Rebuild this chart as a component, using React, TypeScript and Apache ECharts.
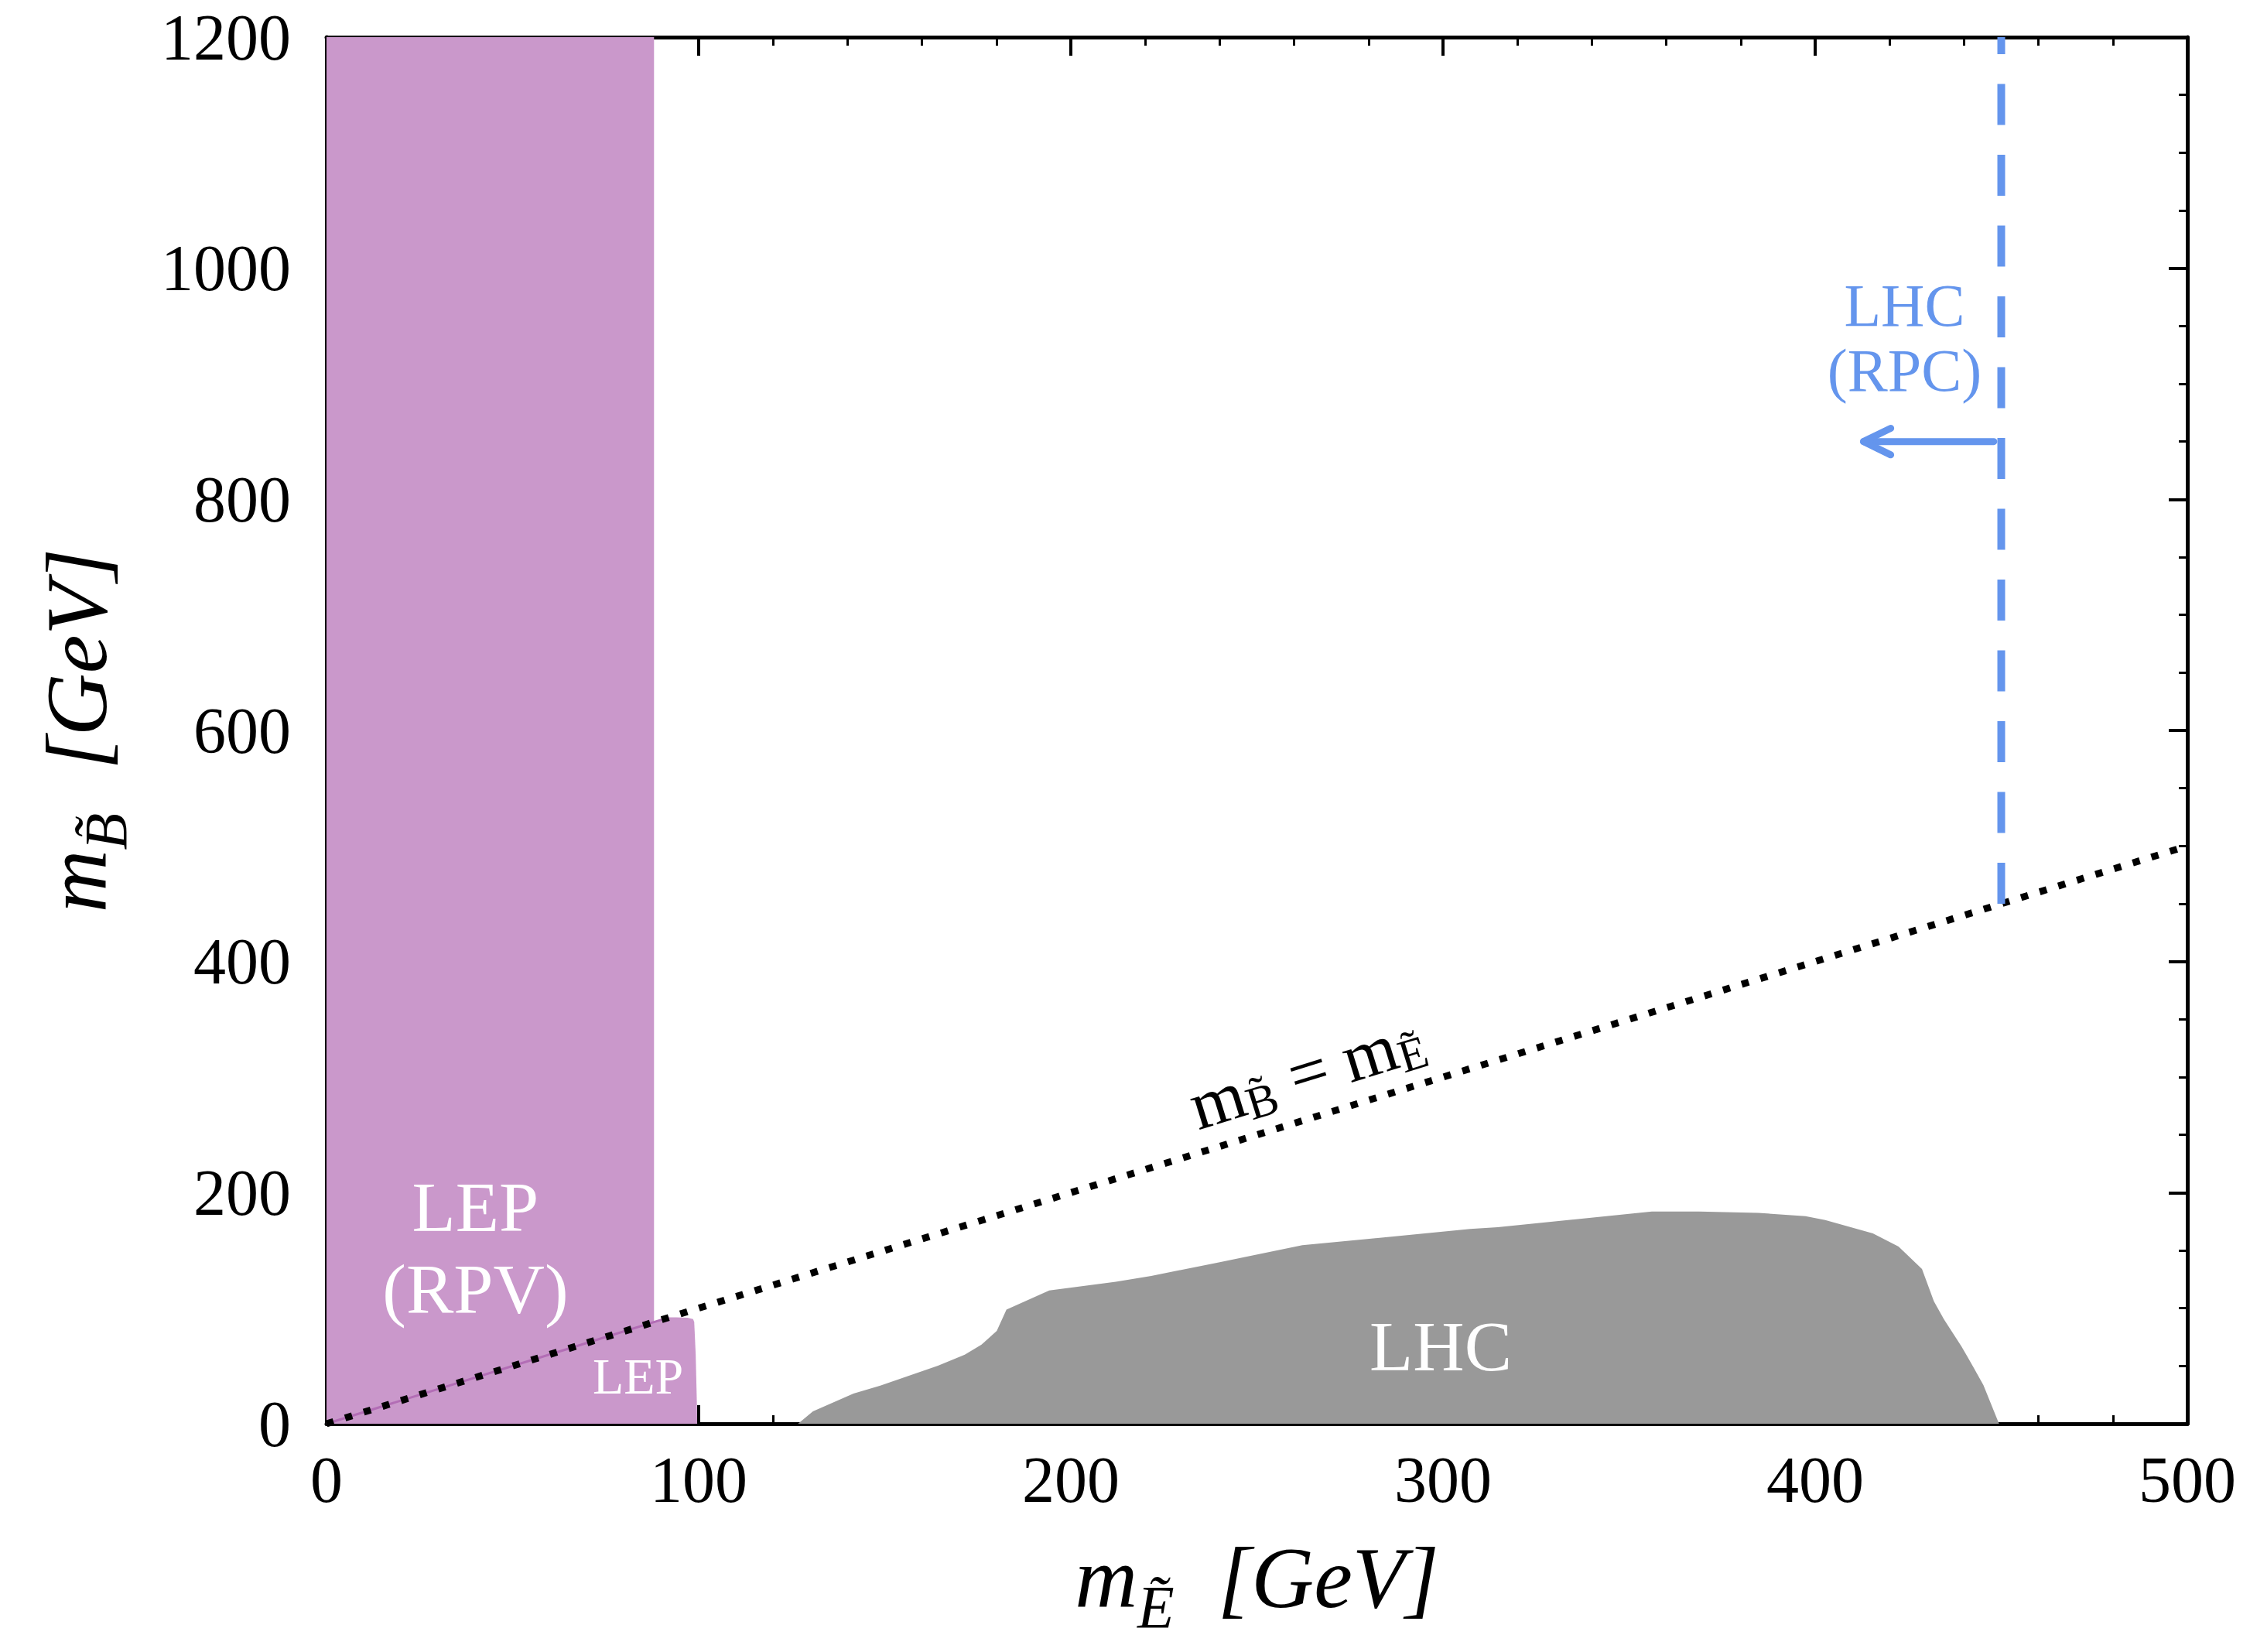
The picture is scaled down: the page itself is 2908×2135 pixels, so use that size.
import React, { useEffect, useRef } from "react";
import * as echarts from "echarts";

// ---- data (GeV) ----
const xRange = [0, 500];
const yRange = [0, 1200];
const lepRpvTop = [[0, 1200], [88, 1200]];
const lepRegion = [[0, 0], [92, 92], [94, 92], [97, 91.8], [98.5, 90.5], [98.8, 88], [99.2, 60], [99.5, 20], [99.6, 0]];
const lepDiagEdge = [[0, 0], [92, 92]];
const lhcRegion = [
  [126.7, 0], [130.7, 10.7], [141.6, 26.1], [148.8, 33], [164.3, 50.2], [171.5, 59.8], [176, 68.5],
  [180.1, 80.4], [182.7, 98.7], [194.2, 115.4], [212.1, 122.8], [221.6, 127.9], [239.5, 139.5],
  [262.2, 154.5], [275.3, 158.5], [307.3, 168.5], [314.7, 170.1], [356.1, 183.7], [368.8, 183.7],
  [384.7, 182.5], [397.4, 179.7], [402.7, 176.3], [415.5, 164.7], [422.4, 153.3], [428.7, 133.9],
  [431.9, 106], [434.6, 90.4], [439.3, 67], [442.5, 49], [445.2, 33.5], [449.4, 0],
];
const diagonal = [[0, 0], [500, 500]];
const rpcLimit = [[450, 450], [450, 1200]];
const rpcArrow = [[448, 850], [413, 850]];
const rpcArrowHead = [[420.3, 861.5], [413, 850], [420.3, 838.5]];
const labelLepRpv = [40, 152];
const labelLep = [83.7, 41.5];
const labelLhc = [299.4, 67];
const labelRpc = [424, 940];
const labelDiag = [263.4, 304.7];

const FONT = "'Liberation Serif', 'DejaVu Serif', serif";

export default function App() {
  const ref = useRef<HTMLDivElement>(null);
  useEffect(() => {
    document.body.style.margin = "0";
    const chart = echarts.init(ref.current!, null, { renderer: "svg" });
    const axisCommon = (show: boolean) => ({
      type: "value" as const,
      axisLine: { show: true, onZero: false, lineStyle: { color: "#000", width: 5 } },
      axisTick: { show: true, inside: true, length: 24, lineStyle: { color: "#000", width: 4 } },
      splitLine: { show: false },
      axisLabel: { show, color: "#000", fontSize: 84, fontFamily: FONT },
    });
    const richName = {
      m: { fontSize: 112, fontStyle: "italic", fontFamily: FONT, color: "#000", lineHeight: 112 },
      s: { fontSize: 78, fontStyle: "italic", fontFamily: FONT, color: "#000", lineHeight: 78, padding: [74, 0, 0, 0] },
    };
    const lineSeries = (data: number[][], lineStyle: any) => ({
      type: "line",
      data,
      symbol: "none",
      silent: true,
      z: 4,
      lineStyle,
    });
    const areaSeries = (data: number[][], color: string) => ({
      type: "line",
      data,
      symbol: "none",
      silent: true,
      z: 2,
      lineStyle: { width: 0, color },
      areaStyle: { color, opacity: 1, origin: "start" },
    });
    const lbl = (value: number[], label: any) => ({ value, label: { show: true, position: "inside", fontFamily: FONT, opacity: 1, ...label } });
    const plain = (v: number) => String(v);

    chart.setOption({
      animation: false,
      grid: { left: 422, top: 48, right: 81, bottom: 295 },
      xAxis: [
        {
          ...axisCommon(true),
          min: xRange[0], max: xRange[1], interval: 100, position: "bottom",
          minorTick: { show: true, splitNumber: 5, length: 11, lineStyle: { color: "#000", width: 3 } },
          axisLabel: { show: true, color: "#000", fontSize: 84, fontFamily: FONT, margin: 30, formatter: plain },
          name: "{m|m}{s|E\u0303}{m|  [GeV]}",
          nameLocation: "middle",
          nameGap: 143,
          nameTextStyle: { rich: richName },
        },
        {
          ...axisCommon(false),
          min: xRange[0], max: xRange[1], interval: 100, position: "top",
          minorTick: { show: true, splitNumber: 5, length: 11, lineStyle: { color: "#000", width: 3 } },
        },
      ],
      yAxis: [
        {
          ...axisCommon(true),
          min: yRange[0], max: yRange[1], interval: 200, position: "left",
          minorTick: { show: true, splitNumber: 4, length: 11, lineStyle: { color: "#000", width: 3 } },
          axisLabel: { show: true, color: "#000", fontSize: 84, fontFamily: FONT, margin: 46, formatter: plain },
          name: "{m|m}{s|B\u0303}{m|  [GeV]}",
          nameLocation: "middle",
          nameRotate: 90,
          nameGap: 267,
          nameTextStyle: { rich: richName },
        },
        {
          ...axisCommon(false),
          min: yRange[0], max: yRange[1], interval: 200, position: "right",
          minorTick: { show: true, splitNumber: 4, length: 11, lineStyle: { color: "#000", width: 3 } },
        },
      ],
      series: [
        areaSeries(lepRpvTop, "#ca98cb"),
        areaSeries(lepRegion, "#ca98cb"),
        areaSeries(lhcRegion, "#999999"),
        lineSeries(lepDiagEdge, { color: "#b26db5", width: 3 }),
        lineSeries(diagonal, { color: "#000", width: 9, type: [9.5, 15.7], cap: "butt" }),
        lineSeries(rpcLimit, { color: "#6495ed", width: 10, type: [53, 38.5], cap: "butt" }),
        lineSeries(rpcArrow, { color: "#6495ed", width: 9, cap: "round" }),
        lineSeries(rpcArrowHead, { color: "#6495ed", width: 9, cap: "round", join: "round" }),
        {
          type: "scatter",
          silent: true,
          z: 10,
          symbolSize: 1,
          itemStyle: { color: "rgba(0,0,0,0)", opacity: 1 },
          data: [
            lbl(labelLepRpv, { formatter: "LEP\n(RPV)", color: "#fff", fontSize: 92, lineHeight: 106 }),
            lbl(labelLep, { formatter: "LEP", color: "#fff", fontSize: 66 }),
            lbl(labelLhc, { formatter: "LHC", color: "#fff", fontSize: 92 }),
            lbl(labelRpc, { formatter: "LHC\n(RPC)", color: "#6495ed", fontSize: 78, lineHeight: 84 }),
            lbl(labelDiag, {
              formatter: "{m|m}{s|B\u0303}{m| = m}{s|E\u0303}",
              rotate: 17.25,
              rich: {
                m: { fontSize: 90, fontFamily: FONT, color: "#000", lineHeight: 90 },
                s: { fontSize: 60, fontFamily: FONT, color: "#000", lineHeight: 60, padding: [38, 0, 0, 0] },
              },
            }),
          ],
        },
      ],
    });
    return () => chart.dispose();
  }, []);
  return <div ref={ref} style={{ width: 2908, height: 2135 }} />;
}
